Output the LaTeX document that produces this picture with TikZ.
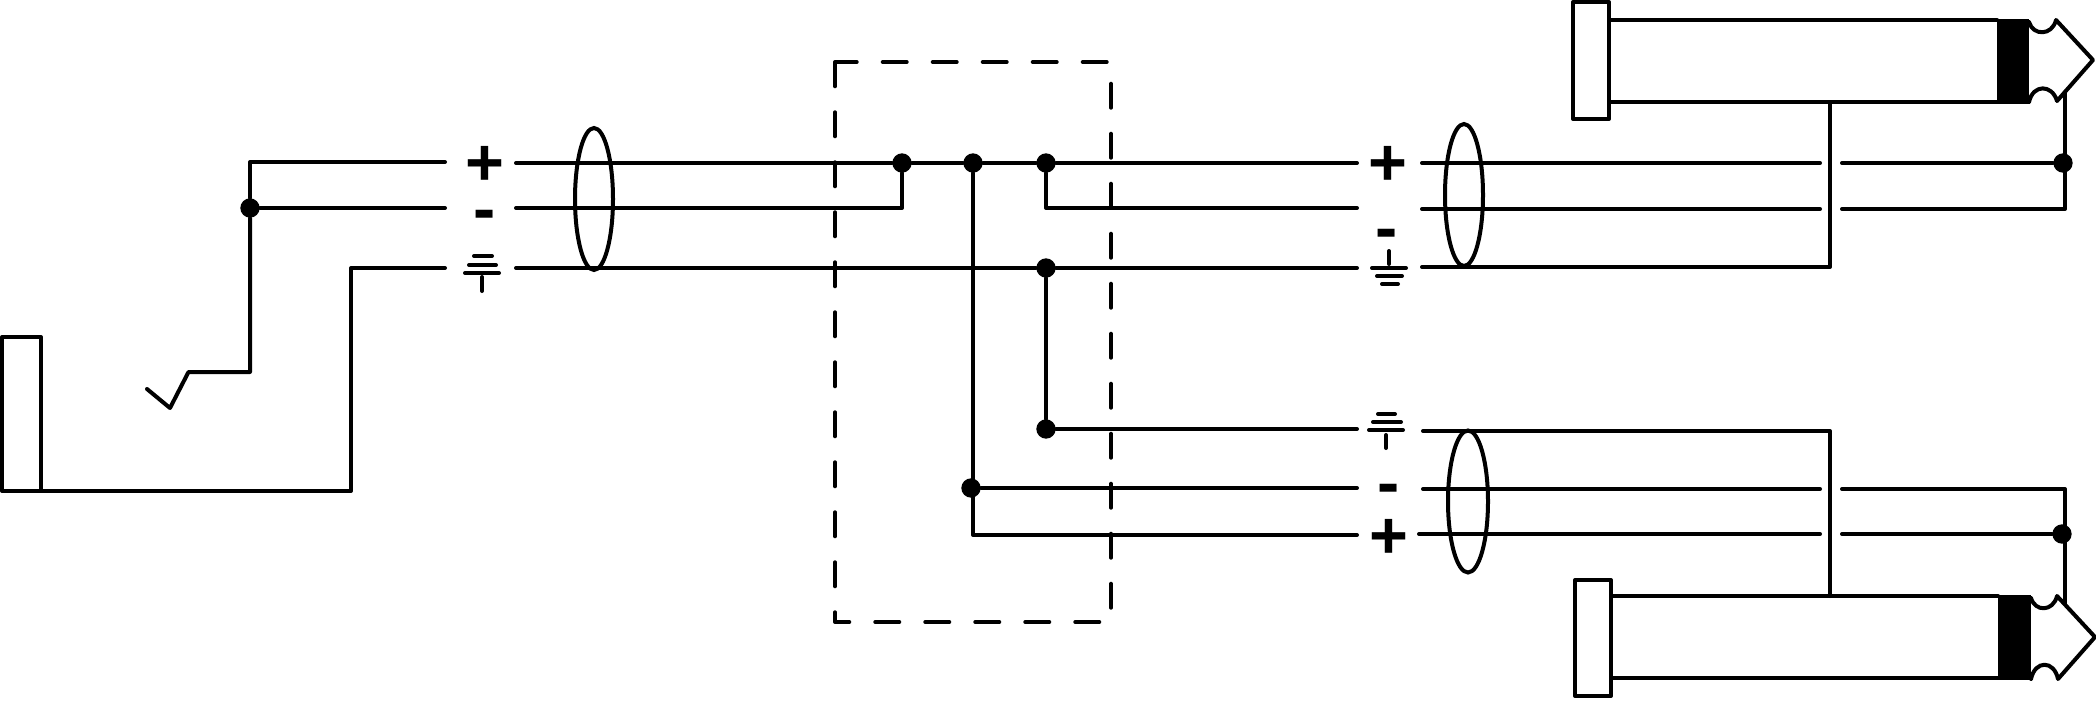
\documentclass[tikz,border=0pt]{standalone}
\usepackage{fontspec}
\setmainfont{Liberation Sans}
\usetikzlibrary{shapes.geometric}

\tikzset{
  wire/.style={line width=3pt, line cap=round, line join=round},
  joint/.style={circle, fill=black, inner sep=0pt, minimum size=14.5pt},
  sign/.style={font=\fontsize{50}{50}\selectfont\bfseries, inner sep=0pt},
  shield/.style={ellipse, draw, line width=3pt, inner sep=0pt, minimum width=28.5pt, minimum height=106.5pt},
  screen/.style={wire, dash pattern=on 18pt off 19.5pt, dash phase=1.7pt}
}

\begin{document}
\begin{tikzpicture}[x=0.75pt, y=-0.75pt]

\useasboundingbox (0, 0) rectangle (2096, 700);

\draw[screen] (835, 62) -- (1111, 62) -- (1111, 622) -- (835, 622) -- (835, 62);

\node[joint] (insplit) at (250, 208) {};
\node[joint] (hotin) at (902, 163) {};
\node[joint] (hotmid) at (973, 163) {};
\node[joint] (hotout) at (1046, 163) {};
\node[joint] (gndmid) at (1046, 268) {};
\node[joint] (gndlow) at (1046, 429) {};
\node[joint] (coldlow) at (971, 488) {};
\node[joint] (uptip) at (2063, 163) {};
\node[joint] (lowtip) at (2062, 534) {};

\node[sign] (plusa) at (484.5, 166) {+};
\node[sign] (minusa) at (484.5, 221) {-};
\node[sign] (plusb) at (1387.5, 166) {+};
\node[sign] (minusb) at (1387, 240) {-};
\node[sign] (minusc) at (1388.5, 495) {-};
\node[sign] (plusc) at (1389, 539) {+};

\node[shield] (shielda) at (594, 199) {};
\node[shield] (shieldb) at (1464, 195) {};
\node[shield, minimum width=30pt] (shieldc) at (1468, 501.5) {};

\coordinate (trsbase) at (41, 491);
\coordinate (hotaend) at (445, 162);
\coordinate (coldaend) at (445, 208);
\coordinate (gndaend) at (445, 268);
\coordinate (hotastart) at (516, 163);
\coordinate (coldastart) at (516, 208);
\coordinate (gndastart) at (516, 268);
\coordinate (hotbend) at (1357, 163);
\coordinate (coldbend) at (1357, 208);
\coordinate (gndbend) at (1357, 268);
\coordinate (hotbstart) at (1422, 163);
\coordinate (coldbstart) at (1422, 209);
\coordinate (gndbstart) at (1422, 267);
\coordinate (hotbgap) at (1820, 163);
\coordinate (coldbgap) at (1820, 209);
\coordinate (hotbback) at (1842, 163);
\coordinate (coldbback) at (1842, 209);
\coordinate (gndcend) at (1357, 429);
\coordinate (coldcend) at (1357, 488);
\coordinate (hotcend) at (1357, 535);
\coordinate (gndcstart) at (1423, 431);
\coordinate (coldcstart) at (1423, 489);
\coordinate (hotcstart) at (1419, 534);
\coordinate (coldcgap) at (1820, 489);
\coordinate (hotcgap) at (1820, 534);
\coordinate (coldcback) at (1842, 489);
\coordinate (hotcback) at (1842, 534);
\coordinate (upbody) at (1830, 102);
\coordinate (lowbody) at (1830, 596);

\draw[wire] (2, 337) rectangle (41, 491);

\draw[wire] (trsbase) -- (351, 491) -- (351, 268) -- (gndaend);

\draw[wire] (147, 389) -- (170, 408) -- (188.5, 372) -- (250, 372) -- (insplit);

\draw[wire] (insplit) -- (250, 162) -- (hotaend);

\draw[wire] (insplit) -- (coldaend);

\draw[wire] (hotastart) -- (hotin);

\draw[wire] (coldastart) -- (902, 208) -- (hotin);

\draw[wire] (gndastart) -- (gndmid);

\draw[wire] (hotin) -- (hotmid);

\draw[wire] (hotmid) -- (hotout);

\draw[wire] (hotout) -- (hotbend);

\draw[wire] (hotout) -- (1046, 208) -- (coldbend);

\draw[wire] (gndmid) -- (gndbend);

\draw[wire] (gndmid) -- (gndlow);

\draw[wire] (gndlow) -- (gndcend);

\draw[wire] (hotmid) -- (973, 535) -- (hotcend);

\draw[wire] (coldlow) -- (coldcend);

\draw[wire] (hotbstart) -- (hotbgap);

\draw[wire] (coldbstart) -- (coldbgap);

\draw[wire] (hotbback) -- (uptip);

\draw[wire] (coldbback) -- (2065, 209) -- (2065, 92);

\draw[wire] (gndbstart) -- (1830, 267) -- (upbody);

\draw[wire] (gndcstart) -- (1830, 431) -- (lowbody);

\draw[wire] (coldcstart) -- (coldcgap);

\draw[wire] (hotcstart) -- (hotcgap);

\draw[wire] (coldcback) -- (2065, 489) -- (2065, 604);

\draw[wire] (hotcback) -- (lowtip);

\draw[wire] (465, 273) -- (499, 273);
\draw[wire] (469, 265) -- (496, 265);
\draw[wire] (474, 256) -- (492, 256);
\draw[wire] (482, 277) -- (482, 291);

\draw[wire] (1389, 251) -- (1389, 264);
\draw[wire] (1372, 268) -- (1406, 268);
\draw[wire] (1377, 276) -- (1402, 276);
\draw[wire] (1382, 284) -- (1398, 284);

\draw[wire] (1378, 414) -- (1395, 414);
\draw[wire] (1373, 422) -- (1401, 422);
\draw[wire] (1369, 430) -- (1403, 430);
\draw[wire] (1386, 435) -- (1386, 448);

\draw[wire] (1573, 2) rectangle (1609, 119);
\draw[wire] (1609, 20) -- (1997, 20);
\draw[wire] (1609, 102) -- (1997, 102);
\fill (1997, 19) rectangle (2029, 104);
\draw[wire] (2029, 22) .. controls (2033, 36) and (2052, 36) .. (2056, 20) -- (2093, 60) -- (2057, 101) .. controls (2052, 84) and (2033, 84) .. (2029, 102);

\draw[wire] (1575, 580) rectangle (1611, 696);
\draw[wire] (1611, 596) -- (1998, 596);
\draw[wire] (1611, 678) -- (1998, 678);
\fill (1998, 595) rectangle (2031, 680);
\draw[wire] (2031, 598) .. controls (2035, 612) and (2053, 612) .. (2057, 596) -- (2095, 637) -- (2058, 679) .. controls (2054, 660) and (2035, 660) .. (2031, 679);

\end{tikzpicture}
\end{document}
